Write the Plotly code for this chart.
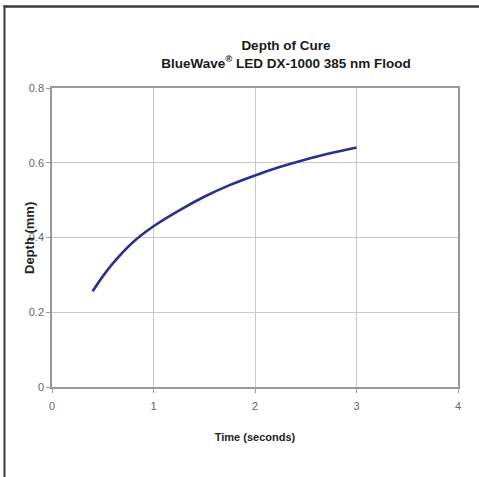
import plotly.graph_objects as go

time_s = [0.4, 0.5, 0.6, 0.8, 1.0, 1.25, 1.5, 1.75, 2.0, 2.25, 2.5, 2.75, 3.0]
depth_mm = [0.256, 0.296, 0.331, 0.388, 0.430, 0.472, 0.509, 0.540, 0.566, 0.589, 0.609, 0.626, 0.641]

x_ticks = [0, 1, 2, 3, 4]
y_ticks = [0, 0.2, 0.4, 0.6, 0.8]
y_tick_labels = ["0", "0.2", "0.4", "0.6", "0.8"]

FONT = "Liberation Sans, Arial, sans-serif"

fig = go.Figure()
fig.add_trace(go.Scatter(
    x=time_s, y=depth_mm, mode="lines",
    line=dict(color="#2e2e8c", width=2.6, shape="spline"),
    showlegend=False, hoverinfo="skip",
))

W, H = 479, 477
L, R, T, B = 52, 21, 88, 90
pw, ph = W - L - R, H - T - B

def px(x):
    return (x - L) / pw

def py(y):
    return (H - B - y) / ph

fig.update_layout(
    width=W, height=H,
    margin=dict(l=L, r=R, t=T, b=B, autoexpand=False),
    paper_bgcolor="white", plot_bgcolor="white",
    font=dict(family=FONT, color="#222"),
    title=dict(
        text="<b>Depth of Cure<br>BlueWave<sup>®</sup> LED DX-1000 385 nm Flood</b>",
        x=px(286), xref="paper", xanchor="center",
        y=1 - 50 / H, yanchor="middle",
        font=dict(size=13.5, color="#1a1a1a", family=FONT),
    ),
    xaxis=dict(
        range=[0, 4], tickvals=x_ticks, ticktext=[str(v) for v in x_ticks],
        showgrid=True, gridcolor="#c8c8c8", gridwidth=1,
        showline=True, linecolor="#999999", linewidth=1.5, mirror=True,
        ticks="outside", ticklen=4, tickcolor="#999999",
        tickfont=dict(size=11, color="#666666"), ticklabelstandoff=4,
        zeroline=False, automargin=False,
        title=dict(text="<b>Time (seconds)</b>", font=dict(size=11, color="#222"), standoff=22),
    ),
    yaxis=dict(
        range=[0, 0.8], tickvals=y_ticks, ticktext=y_tick_labels,
        showgrid=True, gridcolor="#c8c8c8", gridwidth=1,
        showline=True, linecolor="#999999", linewidth=1.5, mirror=True,
        ticks="outside", ticklen=4, tickcolor="#999999",
        tickfont=dict(size=11, color="#666666"),
        zeroline=False, automargin=False,
    ),
    annotations=[
        dict(text="<b>Depth (mm)</b>", textangle=-90,
             xref="paper", yref="paper", x=px(29), y=py(238),
             xanchor="center", yanchor="middle", showarrow=False,
             font=dict(size=13, color="#222", family=FONT)),
    ],
    shapes=[
        dict(type="line", xref="paper", yref="paper",
             x0=px(4.5), x1=px(4.5), y0=py(5.5), y1=py(H + 20),
             line=dict(color="#3a3a3a", width=2)),
        dict(type="line", xref="paper", yref="paper",
             x0=px(3.5), x1=px(W + 20), y0=py(6.5), y1=py(6.5),
             line=dict(color="#3a3a3a", width=2.5)),
    ],
)

fig.write_html("out.html", config={"displayModeBar": False})

# remove the default page margin so the figure sits at the window origin
with open("out.html", "r", encoding="utf-8") as f:
    html = f.read()
html = html.replace("<head>", "<head><style>html,body{margin:0;padding:0;overflow:hidden;}</style>", 1)
with open("out.html", "w", encoding="utf-8") as f:
    f.write(html)
